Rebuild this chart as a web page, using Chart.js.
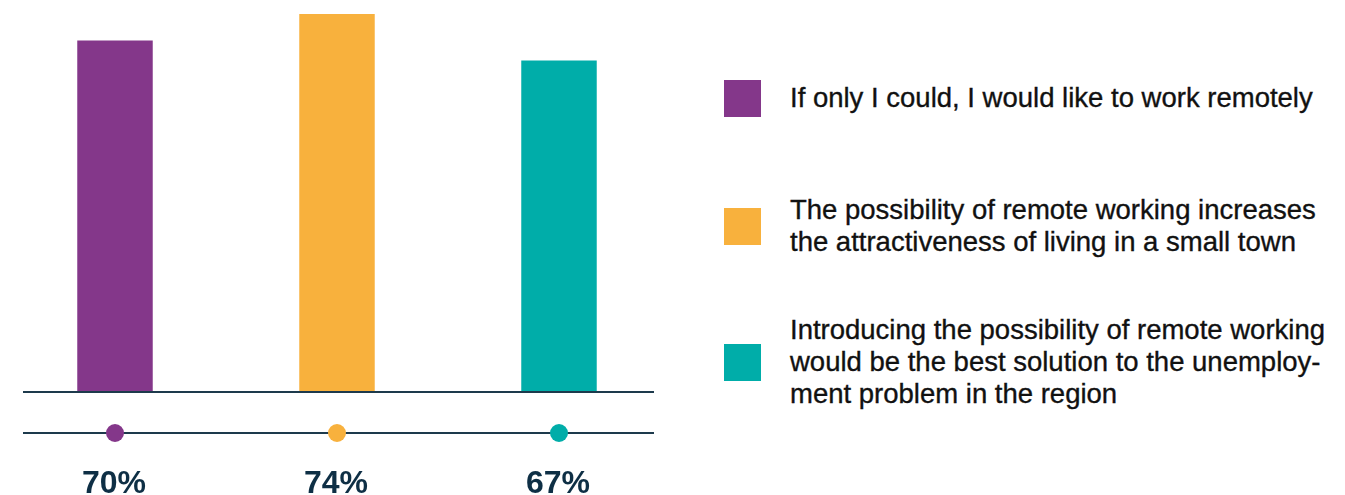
<!DOCTYPE html>
<html>
<head>
<meta charset="utf-8">
<script src="https://cdn.jsdelivr.net/npm/chart.js@4/dist/chart.umd.min.js"></script>
<style>
  html, body { margin: 0; padding: 0; background: #fff; }
  #wrap { position: relative; width: 1345px; height: 495px; overflow: hidden; }
  #chartBox { position: absolute; left: 0; top: 0; width: 672px; height: 495px; }
  #legend { position: absolute; left: 724px; top: 0; width: 621px; height: 495px;
            font-family: "Liberation Sans", Arial, sans-serif; font-size: 27.5px; color: #111;
            -webkit-text-stroke: 0.35px #111; }
  .item { position: absolute; left: 0; display: flex; align-items: center; }
  .box { width: 37px; height: 37px; flex: none; }
  .txt { margin-left: 29px; line-height: 32px; white-space: nowrap; }
</style>
</head>
<body>
<div id="wrap">
  <div id="chartBox"><canvas id="remoteChart"></canvas></div>
  <div id="legend"></div>
</div>
<script>
// ==============================
//  데이터
// ==============================
const categories = [
  ["If only I could, I would like to work remotely"],
  ["The possibility of remote working increases", "the attractiveness of living in a small town"],
  ["Introducing the possibility of remote working", "would be the best solution to the unemploy-", "ment problem in the region"]
];
const shares = [70, 74, 67];
const pctLabels = ["70%", "74%", "67%"];
const colors = ["#84378A", "#F8B13D", "#00ADA9"];

// 범례 위치 (중앙 y)
const legendCenters = [98, 226, 362];

// ==============================
//  HTML 범례
// ==============================
const legendEl = document.getElementById("legend");
categories.forEach((lines, i) => {
  const item = document.createElement("div");
  item.className = "item";
  item.innerHTML = `<div class="box" style="background:${colors[i]}"></div>` +
                   `<div class="txt">${lines.join("<br>")}</div>`;
  legendEl.appendChild(item);
  item.style.top = (legendCenters[i] - item.offsetHeight / 2) + "px";
});

// ==============================
//  기준선 + 점 + 퍼센트 라벨
// ==============================
const lineDots = {
  id: "lineDots",
  afterDatasetsDraw(chart) {
    const { ctx, chartArea } = chart;
    const x = chart.scales.x;
    const left = chartArea.left + 19;
    const right = chartArea.right - 16;
    const base = chartArea.bottom;
    const dotY = base + 41;

    ctx.save();
    ctx.strokeStyle = "#1d3a4c";
    ctx.lineWidth = 2;
    [base, dotY].forEach(y => {
      ctx.beginPath();
      ctx.moveTo(left, y);
      ctx.lineTo(right, y);
      ctx.stroke();
    });

    shares.forEach((v, i) => {
      const cx = x.getPixelForValue(i);
      ctx.beginPath();
      ctx.arc(cx, dotY, 9, 0, Math.PI * 2);
      ctx.fillStyle = colors[i];
      ctx.fill();

      ctx.fillStyle = "#0e2f45";
      ctx.font = "bold 32px 'Liberation Sans', Arial, sans-serif";
      ctx.textAlign = "center";
      ctx.textBaseline = "alphabetic";
      ctx.fillText(pctLabels[i], cx - 1, base + 101);
    });
    ctx.restore();
  }
};

new Chart(document.getElementById("remoteChart"), {
  type: "bar",
  data: {
    labels: pctLabels,
    datasets: [{
      data: shares,
      backgroundColor: colors,
      barPercentage: 0.68,
      categoryPercentage: 0.5,
      borderWidth: 0
    }]
  },
  options: {
    responsive: true,
    maintainAspectRatio: false,
    animation: false,
    layout: { padding: { left: 4, right: 2, top: 14, bottom: 103 } },
    scales: {
      x: { display: false },
      y: { display: false, min: 17, max: 74 }
    },
    plugins: {
      legend: { display: false },
      tooltip: { enabled: false }
    }
  },
  plugins: [lineDots]
});
</script>
</body>
</html>
